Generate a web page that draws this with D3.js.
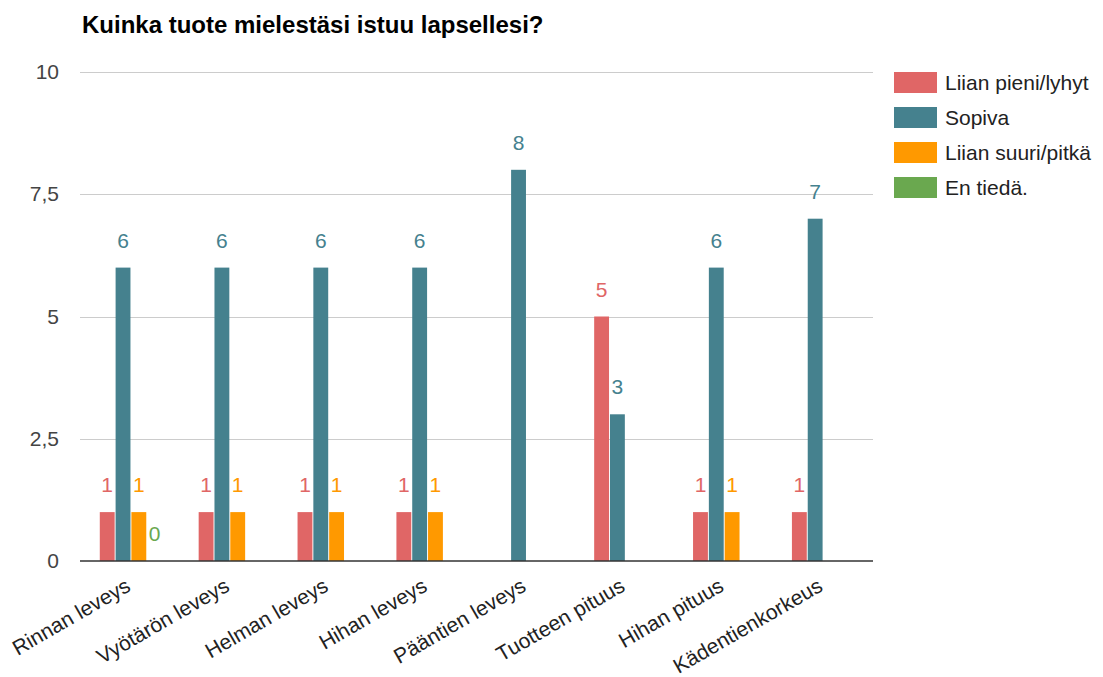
<!DOCTYPE html>
<html>
<head>
<meta charset="utf-8">
<script src="https://cdn.jsdelivr.net/npm/d3@7/dist/d3.min.js"></script>
<style>
  html, body { margin: 0; padding: 0; background: #fff; }
  svg { display: block; font-family: "Liberation Sans", Arial, sans-serif; }
</style>
</head>
<body>
<svg id="chart" width="1103" height="677"></svg>
<script>
const title = "Kuinka tuote mielestäsi istuu lapsellesi?";
const categories = ["Rinnan leveys", "Vyötärön leveys", "Helman leveys", "Hihan leveys", "Pääntien leveys", "Tuotteen pituus", "Hihan pituus", "Kädentienkorkeus"];
const seriesNames = ["Liian pieni/lyhyt", "Sopiva", "Liian suuri/pitkä", "En tiedä."];
const seriesColors = ["#e06666", "#45818e", "#ff9900", "#6aa84f"];
const liianPieni = [1, 1, 1, 1, null, 5, 1, 1];
const sopiva = [6, 6, 6, 6, 8, 3, 6, 7];
const liianSuuri = [1, 1, 1, 1, null, null, 1, null];
const enTieda = [0, null, null, null, null, null, null, null];
const yTicks = [0, 2.5, 5, 7.5, 10];
const yTickLabels = ["0", "2,5", "5", "7,5", "10"];

const seriesValues = [liianPieni, sopiva, liianSuuri, enTieda];

const svg = d3.select("#chart");
const plotLeft = 80, plotRight = 872, plotTop = 72, plotBottom = 561;

const x = d3.scaleBand().domain(categories).range([plotLeft + 1, plotRight + 1]).paddingInner(0.37).paddingOuter(0.19);
const xs = d3.scaleBand().domain(d3.range(seriesNames.length)).range([0, x.bandwidth()]).paddingInner(0.06);
const y = d3.scaleLinear().domain([0, 10]).range([plotBottom, plotTop]);

// title
svg.append("text").attr("x", 82).attr("y", 33)
  .attr("font-size", 24).attr("font-weight", "bold").attr("fill", "#000")
  .text(title);

// gridlines
svg.append("g").selectAll("line").data(yTicks.filter(d => d !== 0)).join("line")
  .attr("x1", plotLeft).attr("x2", plotRight + 1)
  .attr("y1", d => Math.round(y(d)) + 0.5).attr("y2", d => Math.round(y(d)) + 0.5)
  .attr("stroke", "#cccccc").attr("stroke-width", 1);

// y axis labels
const yAxis = d3.axisLeft(y).tickValues(yTicks).tickSize(0).tickPadding(0)
  .tickFormat((d, i) => yTickLabels[i]);
const yg = svg.append("g").attr("transform", `translate(${plotLeft - 21},0)`).call(yAxis);
yg.select(".domain").remove();
yg.selectAll("text").attr("font-size", 21).attr("fill", "#444").attr("font-family", "Liberation Sans, Arial, sans-serif");

// bars
const flat = [];
categories.forEach((c, ci) => {
  seriesValues.forEach((vals, si) => {
    const v = vals[ci];
    if (v !== null && v !== undefined) flat.push({ c, si, v });
  });
});

svg.append("g").selectAll("rect").data(flat.filter(d => d.v > 0)).join("rect")
  .attr("x", d => x(d.c) + xs(d.si))
  .attr("width", xs.bandwidth())
  .attr("y", d => y(d.v))
  .attr("height", d => y(0) - y(d.v))
  .attr("fill", d => seriesColors[d.si]);

// value labels
svg.append("g").selectAll("text").data(flat).join("text")
  .attr("x", d => x(d.c) + xs(d.si) + xs.bandwidth() / 2)
  .attr("y", d => y(d.v) - 20)
  .attr("text-anchor", "middle")
  .attr("font-size", 21)
  .attr("fill", d => seriesColors[d.si])
  .text(d => d.v);

// baseline
svg.append("line").attr("x1", plotLeft).attr("x2", plotRight + 1)
  .attr("y1", y(0)).attr("y2", y(0))
  .attr("stroke", "#333").attr("stroke-width", 1.5);

// x labels
const xAxis = d3.axisBottom(x).tickSize(0).tickPadding(0);
const xg = svg.append("g").attr("transform", `translate(0,${plotBottom})`).call(xAxis);
xg.select(".domain").remove();
xg.selectAll(".tick text")
  .attr("font-size", 21).attr("fill", "#222").attr("font-family", "Liberation Sans, Arial, sans-serif")
  .attr("text-anchor", "end")
  .attr("dy", null).attr("y", null)
  .attr("transform", "translate(1,29) rotate(-30)");

// legend
const lg = svg.append("g").attr("transform", "translate(894,72)");
const items = lg.selectAll("g").data(seriesNames).join("g")
  .attr("transform", (d, i) => `translate(0,${i * 35})`);
items.append("rect").attr("width", 43).attr("height", 21).attr("fill", (d, i) => seriesColors[i]);
items.append("text").attr("x", 51).attr("y", 10.5).attr("dy", "0.35em")
  .attr("font-size", 21).attr("fill", "#222").text(d => d);
</script>
</body>
</html>
